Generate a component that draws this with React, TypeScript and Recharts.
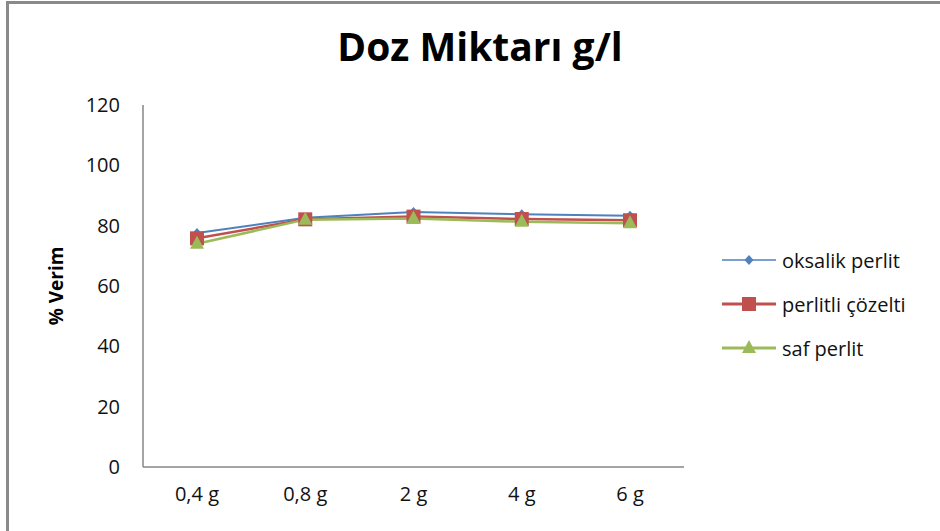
import React from 'react';
import { LineChart, Line, XAxis, YAxis, Legend } from 'recharts';

const categories = ['0,4 g', '0,8 g', '2 g', '4 g', '6 g'];
const oksalikPerlit = [77.6, 82.6, 84.5, 83.8, 83.3];
const perlitliCozelti = [75.8, 82.1, 83.0, 82.2, 81.8];
const safPerlit = [74.0, 82.0, 82.4, 81.3, 80.8];
const yTicks = [0, 20, 40, 60, 80, 100, 120];
const seriesNames = ['oksalik perlit', 'perlitli çözelti', 'saf perlit'];
const seriesColors = ['#4F81BD', '#C0504D', '#9BBB59'];

const data = categories.map((c, i) => ({
  name: c,
  oksalik: oksalikPerlit[i],
  perlitli: perlitliCozelti[i],
  saf: safPerlit[i],
}));

const FONT = '"Open Sans", "DejaVu Sans", sans-serif';

function Marker({ kind, cx, cy }: { kind: string; cx: number; cy: number }) {
  if (cx == null || cy == null) return null;
  if (kind === 'oksalik') {
    return (
      <polygon
        points={`${cx},${cy - 5} ${cx + 4.5},${cy} ${cx},${cy + 5} ${cx - 4.5},${cy}`}
        fill={seriesColors[0]}
      />
    );
  }
  if (kind === 'perlitli') {
    return <rect x={cx - 7} y={cy - 7} width={14} height={14} fill={seriesColors[1]} />;
  }
  return (
    <polygon
      points={`${cx},${cy - 8} ${cx + 7},${cy + 5} ${cx - 7},${cy + 5}`}
      fill={seriesColors[2]}
    />
  );
}

const makeDot = (kind: string) => (props: any) => (
  <Marker key={`${kind}-${props.index}`} kind={kind} cx={props.cx} cy={props.cy} />
);

const renderLegend = (props: any) => {
  const { payload } = props;
  return (
    <div style={{ display: 'flex', flexDirection: 'column' }}>
      {(payload || []).map((entry: any) => {
        const kind = entry.dataKey;
        const idx = kind === 'oksalik' ? 0 : kind === 'perlitli' ? 1 : 2;
        return (
          <div key={kind} style={{ height: 44, display: 'flex', alignItems: 'center' }}>
            <svg width={54} height={20} style={{ marginRight: 6 }}>
              <line x1={0} y1={10} x2={54} y2={10} stroke={seriesColors[idx]} strokeWidth={idx === 0 ? 1.5 : 3} />
              <Marker kind={kind} cx={27} cy={10} />
            </svg>
            <span style={{ fontFamily: FONT, fontSize: 20, color: '#111' }}>{entry.value}</span>
          </div>
        );
      })}
    </div>
  );
};

const YLabel = (props: any) => {
  const vb = props.viewBox || {};
  const cy = (vb.y || 0) + (vb.height || 0) / 2;
  const x = 56;
  return (
    <text
      x={x}
      y={cy}
      transform={`rotate(-90, ${x}, ${cy})`}
      textAnchor="middle"
      dominantBaseline="central"
      style={{ fontFamily: FONT, fontSize: 19, fontWeight: 700, fill: '#000' }}
    >
      % Verim
    </text>
  );
};

export default function App() {
  return (
    <div style={{ position: 'absolute', left: 0, top: 0, width: 940, height: 531, background: '#fff', overflow: 'hidden' }}>
      <div
        style={{
          position: 'absolute',
          left: 6,
          top: 1,
          width: 960,
          height: 527,
          borderLeft: '3px solid #8a8a8a',
          borderTop: '3px solid #8a8a8a',
          borderBottom: '3px solid #8a8a8a',
        }}
      />
      <div
        style={{
          position: 'absolute',
          left: 280,
          top: 18,
          width: 400,
          textAlign: 'center',
          fontFamily: FONT,
          fontWeight: 700,
          fontSize: 39,
          color: '#000',
          lineHeight: '56px',
        }}
      >
        Doz Miktarı g/l
      </div>
      <div style={{ position: 'absolute', left: 0, top: 0 }}>
        <LineChart
          width={940}
          height={531}
          data={data}
          margin={{ top: 105, right: 256, bottom: 34, left: 0 }}
        >
          <XAxis
            dataKey="name"
            height={30}
            padding={{ left: 54, right: 54 }}
            axisLine={{ stroke: '#868686', strokeWidth: 1.5 }}
            tickLine={false}
            tickSize={0}
            tickMargin={20}
            tick={{ fontFamily: FONT, fontSize: 20, fill: '#111' }}
          />
          <YAxis
            width={143}
            domain={[0, 120]}
            ticks={yTicks}
            interval={0}
            axisLine={{ stroke: '#868686', strokeWidth: 1.5 }}
            tickLine={false}
            tickSize={0}
            tickMargin={23}
            tick={{ fontFamily: FONT, fontSize: 20, fill: '#111' }}
            label={<YLabel />}
          />
          <Legend
            layout="vertical"
            content={renderLegend}
            wrapperStyle={{ position: 'absolute', left: 722, top: 238, width: 'auto', height: 0, overflow: 'visible' }}
          />
          <Line
            type="linear"
            dataKey="oksalik"
            name={seriesNames[0]}
            stroke={seriesColors[0]}
            strokeWidth={2}
            dot={makeDot('oksalik')}
            activeDot={false}
            isAnimationActive={false}
          />
          <Line
            type="linear"
            dataKey="perlitli"
            name={seriesNames[1]}
            stroke={seriesColors[1]}
            strokeWidth={2.5}
            dot={makeDot('perlitli')}
            activeDot={false}
            isAnimationActive={false}
          />
          <Line
            type="linear"
            dataKey="saf"
            name={seriesNames[2]}
            stroke={seriesColors[2]}
            strokeWidth={2.5}
            dot={makeDot('saf')}
            activeDot={false}
            isAnimationActive={false}
          />
        </LineChart>
      </div>
    </div>
  );
}
